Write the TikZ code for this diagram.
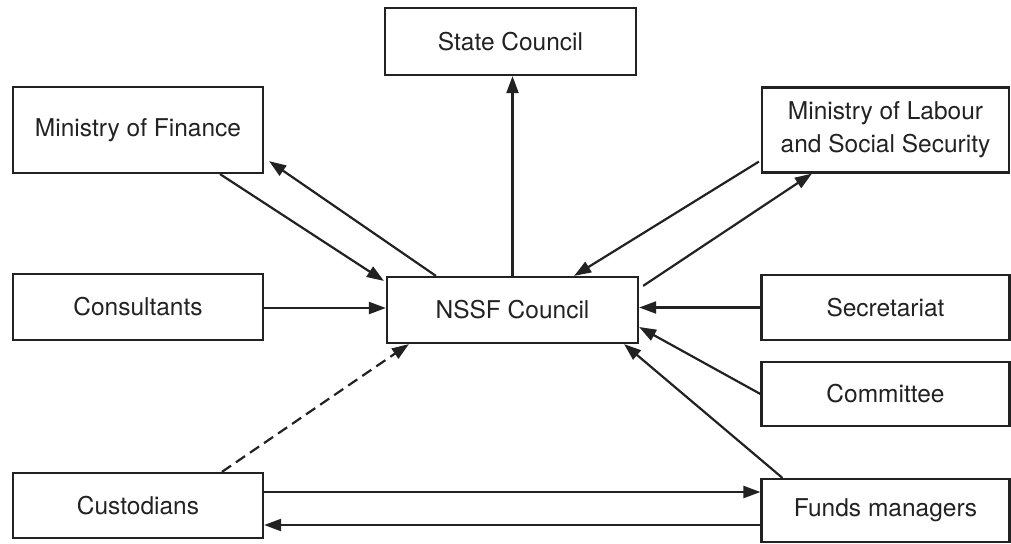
\documentclass[tikz,border=0pt]{standalone}
\usepackage{fontspec}
\setmainfont{TeX Gyre Heros}
\usetikzlibrary{arrows.meta,calc}
\definecolor{ink}{HTML}{222222}
\tikzset{
  box/.style={draw=ink, line width=2.2pt, rectangle, inner sep=0pt, align=center,
    text=ink, font=\fontsize{24.5}{33}\selectfont},
  conn/.style={draw=ink, line width=2.2pt, -{Triangle[length=17pt,width=12pt]}},
  dconn/.style={conn, dash pattern=on 11pt off 6pt}
}
\begin{document}
\begin{tikzpicture}[x=1pt,y=-1pt]
\useasboundingbox (0,0) rectangle (1011,543);
\node[box, minimum width=251pt, minimum height=67pt] (sc) at (510.5,41.5) {State Council};
\node[box, minimum width=250pt, minimum height=86pt] (mof) at (138,130) {Ministry of Finance};
\node[box, minimum width=247pt, minimum height=85pt] (mol) at (885.5,130) {Ministry of Labour\\and Social Security};
\node[box, minimum width=250pt, minimum height=66pt] (cons) at (138,307) {Consultants};
\node[box, minimum width=251pt, minimum height=66pt] (nssf) at (512.5,310) {NSSF Council};
\node[box, minimum width=248pt, minimum height=65pt] (sec) at (885.5,307.5) {Secretariat};
\node[box, minimum width=248pt, minimum height=64pt] (com) at (885.5,394) {Committee};
\node[box, minimum width=250pt, minimum height=65pt] (cust) at (138,505.5) {Custodians};
\node[box, minimum width=248pt, minimum height=63pt] (fm) at (885.5,510.5) {Funds managers};

\draw[conn] (nssf.north) -- (nssf.north |- sc.south);
\draw[conn] ([xshift=82pt]mof.south) -- ([xshift=-2pt,yshift=-5pt]nssf.north west);
\draw[conn] ([xshift=50pt]nssf.north west) -- ([xshift=5pt,yshift=13pt]mof.south east);
\draw[conn] ([xshift=-2pt,yshift=12pt]mol.south west) -- ([xshift=-65pt]nssf.north east);
\draw[conn] ([xshift=4pt,yshift=-10pt]nssf.north east) -- ([xshift=51pt]mol.south west);
\draw[conn] ([yshift=-1pt]cons.east) -- ([yshift=-1pt]cons.east -| nssf.west);
\draw[conn] (sec.west) -- (sec.west -| nssf.east);
\draw[conn] (com.west) -- ([yshift=-17pt]nssf.east);
\draw[conn] ([xshift=22pt]fm.north west) -- ([xshift=-15pt]nssf.south east);
\draw[dconn] ([xshift=210pt]cust.north west) -- ([xshift=23pt]nssf.south west);
\draw[conn] ([yshift=13.5pt]cust.east) -- ([yshift=13.5pt]cust.east -| fm.west);
\draw[conn] ([yshift=-14.5pt]fm.west) -- ([yshift=-14.5pt]fm.west -| cust.east);
\end{tikzpicture}
\end{document}
